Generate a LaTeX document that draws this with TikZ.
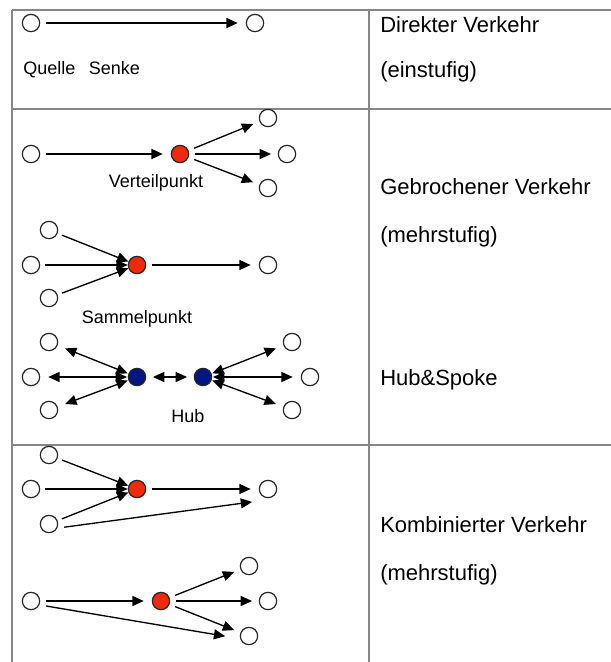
\documentclass[tikz,border=0pt]{standalone}
\usepackage{fontspec}
\setmainfont{Liberation Sans}
\usetikzlibrary{
  arrows.meta,
  positioning
}

\definecolor{punktrot}{RGB}{240,40,12}
\definecolor{hubblau}{RGB}{0,22,130}
\definecolor{rahmengrau}{RGB}{135,135,135}

\begin{document}
\begin{tikzpicture}[
  x=0.75pt, y=-0.75pt,
  ort/.style={
    circle,
    draw=black!85,
    line width=0.9pt,
    fill=white,
    minimum size=13pt,
    inner sep=0pt
  },
  verteiler/.style={ort, fill=punktrot},
  hub/.style={ort, fill=hubblau},
  pfeil/.style={
    -{Triangle[length=8.5pt,width=7.5pt]},
    line width=1pt,
    shorten <=4.5pt, shorten >=5pt
  },
  doppelpfeil/.style={
    pfeil,
    {Triangle[length=8.5pt,width=7.5pt]}-{Triangle[length=8.5pt,width=7.5pt]}
  },
  tabelle/.style={draw=rahmengrau, line width=1.5pt},
  titel/.style={anchor=base west, inner sep=0pt, font=\fontsize{16.5}{20}\selectfont},
  beschriftung/.style={anchor=base, inner sep=0pt, font=\fontsize{13.5}{16}\selectfont}
]

\useasboundingbox (0,0) rectangle (611,662);

\draw[tabelle] (12,10) -- (611,10);
\draw[tabelle] (12,109) -- (611,109);
\draw[tabelle] (12,445) -- (611,445);
\draw[tabelle] (12,10) -- (12,662);
\draw[tabelle] (369,10) -- (369,662);

% direkter Verkehr
\node[ort] (quelle) at (31,23) {};
\node[ort] (senke) at (255,23) {};
\draw[pfeil, shorten >=6pt] (quelle) -- (senke);
\node[beschriftung, anchor=base west] (quelle-text) at (23,74) {Quelle};
\node[beschriftung, base right=9.75pt of quelle-text] (senke-text) {Senke};

% Verteilpunkt
\node[ort] (v-quelle) at (31,154) {};
\node[verteiler] (verteilpunkt) at (180,154) {};
\node[ort] (v-oben) at (268,118) {};
\node[ort] (v-mitte) at (287,154) {};
\node[ort] (v-unten) at (268,188) {};
\node[beschriftung] (verteil-text) at (156,187) {Verteilpunkt};
\draw[pfeil, shorten >=6pt] (v-quelle) -- (verteilpunkt);
\foreach \ziel in {v-oben, v-mitte, v-unten}
  \draw[pfeil] (verteilpunkt) -- (\ziel);

% Sammelpunkt
\node[ort] (s-oben) at (49,230) {};
\node[ort] (s-mitte) at (31,265) {};
\node[ort] (s-unten) at (49,298) {};
\node[verteiler] (sammelpunkt) at (137,265) {};
\node[ort] (s-senke) at (268,265) {};
\node[beschriftung] (sammel-text) at (137,323) {Sammelpunkt};
\foreach \start in {s-oben, s-mitte, s-unten}
  \draw[pfeil, shorten <=3.5pt, shorten >=0pt] (\start) -- (sammelpunkt);
\draw[pfeil, shorten >=6pt] (sammelpunkt) -- (s-senke);

% Hub & Spoke
\node[ort] (h-lo) at (49,342) {};
\node[ort] (h-lm) at (31,377) {};
\node[ort] (h-lu) at (49,410) {};
\node[hub] (hub-links) at (137,377) {};
\node[hub] (hub-rechts) at (203,377) {};
\node[ort] (h-ro) at (292,342) {};
\node[ort] (h-rm) at (310,377) {};
\node[ort] (h-ru) at (292,410) {};
\node[beschriftung] (hub-text) at (188,422) {Hub};
\foreach \spoke in {h-lo, h-lm, h-lu}
  \draw[doppelpfeil, shorten <=6pt, shorten >=0.5pt] (\spoke) -- (hub-links);
\foreach \spoke in {h-ro, h-rm, h-ru}
  \draw[doppelpfeil, shorten <=6pt, shorten >=0.5pt] (\spoke) -- (hub-rechts);
\draw[doppelpfeil, shorten <=5pt, shorten >=5pt] (hub-links) -- (hub-rechts);

% kombinierter Verkehr
\node[ort] (k-oben) at (49,455) {};
\node[ort] (k-mitte) at (31,489) {};
\node[ort] (k-unten) at (49,524) {};
\node[verteiler] (k-sammel) at (137,489) {};
\node[ort] (k-senke) at (268,489) {};
\foreach \start in {k-oben, k-mitte, k-unten}
  \draw[pfeil, shorten <=3.5pt, shorten >=0pt] (\start) -- (k-sammel);
\draw[pfeil, shorten >=6pt] (k-sammel) -- (k-senke);
\draw[pfeil] ([yshift=-3pt]k-unten.east) -- ([yshift=-9pt]k-senke.west);

\node[ort] (k-quelle) at (31,601) {};
\node[verteiler] (k-verteil) at (161,601) {};
\node[ort] (k-v-oben) at (249,566) {};
\node[ort] (k-v-mitte) at (268,601) {};
\node[ort] (k-v-unten) at (249,636) {};
\draw[pfeil, shorten >=6pt] (k-quelle) -- (k-verteil);
\foreach \ziel in {k-v-oben, k-v-mitte, k-v-unten}
  \draw[pfeil] (k-verteil) -- (\ziel);
\draw[pfeil, shorten >=11pt] ([yshift=-3pt]k-quelle.east) -- ([yshift=-2pt]k-v-unten.west);

% rechte Spalte
\node[titel] (direkt-titel) at (380,32) {Direkter Verkehr};
\node[titel] (direkt-stufe) at (380,77) {(einstufig)};
\node[titel] (gebrochen-titel) at (380,194) {Gebrochener Verkehr};
\node[titel] (gebrochen-stufe) at (380,242) {(mehrstufig)};
\node[titel] (hub-titel) at (380,385) {Hub\&Spoke};
\node[titel] (kombi-titel) at (380,532) {Kombinierter Verkehr};
\node[titel] (kombi-stufe) at (380,580) {(mehrstufig)};

\end{tikzpicture}
\end{document}
